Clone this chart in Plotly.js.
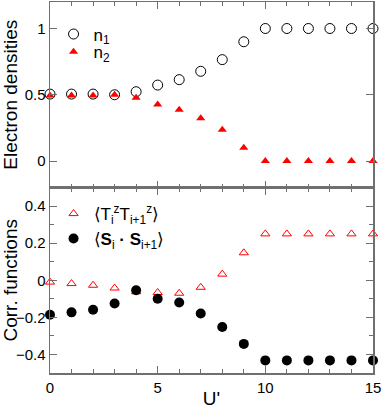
<!DOCTYPE html>
<html>
<head>
<meta charset="utf-8">
<script src="https://cdn.plot.ly/plotly-3.0.1.min.js"></script>
<style>
  html, body { margin: 0; padding: 0; background: #fff; }
  #chart { width: 382px; height: 409px; }
</style>
</head>
<body>
<div id="chart"></div>
<script>
// U' values (shared x for both panels)
var uPrime = [0, 1, 2, 3, 4, 5, 6, 7, 8, 9, 10, 11, 12, 13, 14, 15];

// top panel: electron densities
var n1 = [0.505, 0.505, 0.505, 0.5, 0.523, 0.573, 0.614, 0.677, 0.765, 0.90, 1, 1, 1, 1, 1, 1];
var n2 = [0.495, 0.495, 0.495, 0.5, 0.477, 0.427, 0.386, 0.323, 0.235, 0.10, 0, 0, 0, 0, 0, 0];

// bottom panel: correlation functions
var tzCorr = [-0.01, -0.018, -0.027, -0.042, -0.062, -0.066, -0.07, -0.038, 0.033, 0.148, 0.25, 0.25, 0.25, 0.25, 0.25, 0.25];
var ssCorr = [-0.186, -0.173, -0.159, -0.125, -0.054, -0.1, -0.12, -0.179, -0.252, -0.343, -0.432, -0.432, -0.432, -0.432, -0.432, -0.432];

var frameColor = '#707070';
var fontFam = 'Liberation Sans, Arial, sans-serif';

var traceN1 = {
    x: uPrime, y: n1, xaxis: 'x2', yaxis: 'y2',
    name: 'n<sub>1</sub>', mode: 'markers', cliponaxis: false,
    marker: {symbol: 'circle-open', size: 10, color: '#000', line: {width: 1}},
    legend: 'legend'
};
var traceN2 = {
    x: uPrime, y: n2, xaxis: 'x2', yaxis: 'y2',
    name: 'n<sub>2</sub>', mode: 'markers', cliponaxis: false,
    marker: {symbol: 'triangle-up', size: 8, color: '#ff0000'},
    legend: 'legend2'
};
var traceTz = {
    x: uPrime, y: tzCorr, xaxis: 'x', yaxis: 'y',
    name: '\u27E8T<sub>i</sub><sup>z</sup>T<sub>i+1</sub><sup>z</sup>\u27E9', mode: 'markers', cliponaxis: false,
    marker: {symbol: 'triangle-up-open', size: 8, color: '#ff0000', line: {width: 1}},
    legend: 'legend3'
};
var traceSs = {
    x: uPrime, y: ssCorr, xaxis: 'x', yaxis: 'y',
    name: '\u27E8<b>S</b><sub>i</sub> <b>\u00B7</b> <b>S</b><sub>i+1</sub>\u27E9', mode: 'markers', cliponaxis: false,
    marker: {symbol: 'circle', size: 10, color: '#000'},
    legend: 'legend4'
};

var data = [traceN1, traceN2, traceTz, traceSs];

// common axis styling
function frameAxis(extra) {
    var a = {
        showline: true, linecolor: frameColor, linewidth: 1.5, mirror: 'ticks',
        ticks: 'inside', tickcolor: frameColor, tickwidth: 1, ticklen: 7,
        showgrid: false, zeroline: false, fixedrange: true,
        tickfont: {family: fontFam, size: 15, color: '#000'}
    };
    for (var k in extra) a[k] = extra[k];
    return a;
}

// one legend box per entry so the rows sit where the original has them
function legendBox(yPos) {
    return {
        x: 0.011, y: yPos, xanchor: 'left', yanchor: 'top',
        bgcolor: 'rgba(0,0,0,0)', itemwidth: 30, tracegroupgap: 0,
        font: {family: fontFam, size: 17}
    };
}

var layout = {
    width: 382, height: 409,
    margin: {l: 50, r: 9, t: 2, b: 36},
    paper_bgcolor: '#fff', plot_bgcolor: '#fff',
    font: {family: fontFam, color: '#000'},
    showlegend: true,
    xaxis: frameAxis({
        anchor: 'y', range: [0, 15], dtick: 5, tick0: 0,
        minor: {dtick: 1, ticks: 'inside', ticklen: 4, tickcolor: frameColor},
        title: {text: "U'", font: {family: fontFam, size: 19}, standoff: 2}
    }),
    xaxis2: frameAxis({
        anchor: 'y2', range: [0, 15], dtick: 5, tick0: 0, showticklabels: false,
        minor: {dtick: 1, ticks: 'inside', ticklen: 4, tickcolor: frameColor}
    }),
    yaxis: frameAxis({
        domain: [0, 0.5], anchor: 'x', range: [-0.5, 0.5], dtick: 0.2, tick0: 0,
        minor: {dtick: 0.1, ticks: 'inside', ticklen: 4, tickcolor: frameColor},
        title: {text: 'Corr. functions', font: {family: fontFam, size: 19}, standoff: 4}
    }),
    yaxis2: frameAxis({
        domain: [0.5, 1], anchor: 'x2', range: [-0.2, 1.2], dtick: 0.5, tick0: 0,
        title: {text: 'Electron densities', font: {family: fontFam, size: 19}, standoff: 4}
    }),
    legend: legendBox(0.961),
    legend2: legendBox(0.913),
    legend3: legendBox(0.477),
    legend4: legendBox(0.41)
};

Plotly.newPlot('chart', data, layout, {displayModeBar: false, staticPlot: true});
</script>
</body>
</html>
